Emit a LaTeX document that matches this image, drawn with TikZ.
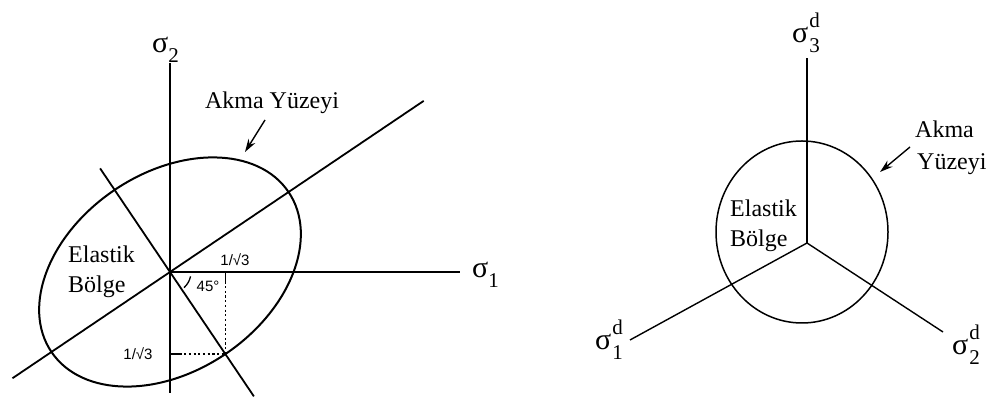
\documentclass[tikz,border=0pt]{standalone}
\usepackage{fontspec}
\setmainfont{Liberation Serif}
\newfontfamily\labsans{Liberation Sans}
\usetikzlibrary{arrows.meta,calc}
\newcommand{\fsA}{\fontsize{24}{24}\selectfont}
\newcommand{\fsS}{\fontsize{30}{30}\selectfont}
\newcommand{\fsI}{\fontsize{21}{21}\selectfont}
\newcommand{\sigsub}[1]{σ\raisebox{-10pt}{\fsI #1}}
\newcommand{\sigdev}[1]{σ\hspace{1pt}\makebox[0pt][l]{\raisebox{15pt}{\fsI d}}\raisebox{-10pt}{\fsI #1}}
\begin{document}
\begin{tikzpicture}[x=1pt,y=1pt,
  axis/.style={line width=1.8pt},
  curve/.style={line width=2pt},
  axisR/.style={line width=1.4pt},
  curveR/.style={line width=1.5pt},
  guide/.style={line width=1.3pt,dash pattern=on 2.2pt off 2.5pt},
  pointer/.style={line width=1.4pt,-{Stealth[length=13pt,width=8pt]}},
  lab/.style={font=\fsA,inner sep=0pt},
  sig/.style={font=\fsS,inner sep=0pt,anchor=base west},
  small/.style={font=\labsans\fontsize{15}{15}\selectfont,inner sep=0pt,anchor=base}]
\useasboundingbox (0,0) rectangle (990,403);
\fill[white] (0,0) rectangle (990,403);
% ---------------- left diagram ----------------
\coordinate (O) at (170,131);
\coordinate (s2top) at (170,340);
\coordinate (s2bot) at (170,10);
\coordinate (s1end) at (460,131);
\coordinate (majA) at ($(O)+(214:190)$);
\coordinate (majB) at ($(O)+(34:306)$);
\coordinate (minA) at ($(O)+(124:125)$);
\coordinate (minB) at ($(O)+(-56:150)$);
\coordinate (P) at ($(O)+(-56:99)$);
\coordinate (Px) at (P |- O);
\coordinate (Py) at (P -| O);
\draw[axis] (s2bot) -- (s2top);
\draw[axis] (O) -- (s1end);
\draw[axis] (majA) -- (majB);
\draw[axis] (minA) -- (minB);
\draw[curve,rotate around={34:(O)}] (O) ellipse [x radius=143pt, y radius=99pt];
\draw[guide] (Px) -- (P);
\draw[guide] (Py) -- (P);
\draw[line width=1.3pt] (Px) -- ++(0,-11);
\draw[line width=1.3pt] (Py) -- ++(10,0);
\draw[line width=1.3pt] ($(O)+(-12:21)$) arc[start angle=-12, end angle=-48, radius=21pt];
\node[sig] (s2) at (152,350) {\sigsub{2}};
\node[sig] (s1) at (472,125) {\sigsub{1}};
\node[lab,anchor=base] (akmaL) at (272,294) {Akma Yüzeyi};
\coordinate (arrLs) at (265,283);
\coordinate (arrLe) at (245,251);
\draw[pointer] (arrLs) -- (arrLe);
\node[lab,anchor=base west] (elL) at (68,140) {Elastik};
\node[lab,anchor=base west] (boL) at (68,110) {Bölge};
\node[small] (r3a) at (235,137) {1/√3};
\node[small] (r3b) at (138,43) {1/√3};
\node[small] (ang) at (208,111) {45°};
% ---------------- right diagram ----------------
\coordinate (C) at (807,160);
\coordinate (d3) at (807,345);
\coordinate (d1) at (630,63);
\coordinate (d2) at (943,71);
\draw[axisR] (C) -- (d3);
\draw[axisR] (C) -- (d1);
\draw[axisR] (C) -- (d2);
\draw[curveR] (802,171) ellipse [x radius=86pt, y radius=91pt];
\node[sig] (sd3) at (792,360) {\sigdev{3}};
\node[sig] (sd1) at (595,53) {\sigdev{1}};
\node[sig] (sd2) at (952,48) {\sigdev{2}};
\node[lab,anchor=base west] (akR) at (915,265) {Akma};
\node[lab,anchor=base west] (yuR) at (917,233) {Yüzeyi};
\coordinate (arrRs) at (910,256);
\coordinate (arrRe) at (880,231);
\draw[pointer] (arrRs) -- (arrRe);
\node[lab,anchor=base west] (elR) at (730,186) {Elastik};
\node[lab,anchor=base west] (boR) at (730,156) {Bölge};
\end{tikzpicture}
\end{document}
